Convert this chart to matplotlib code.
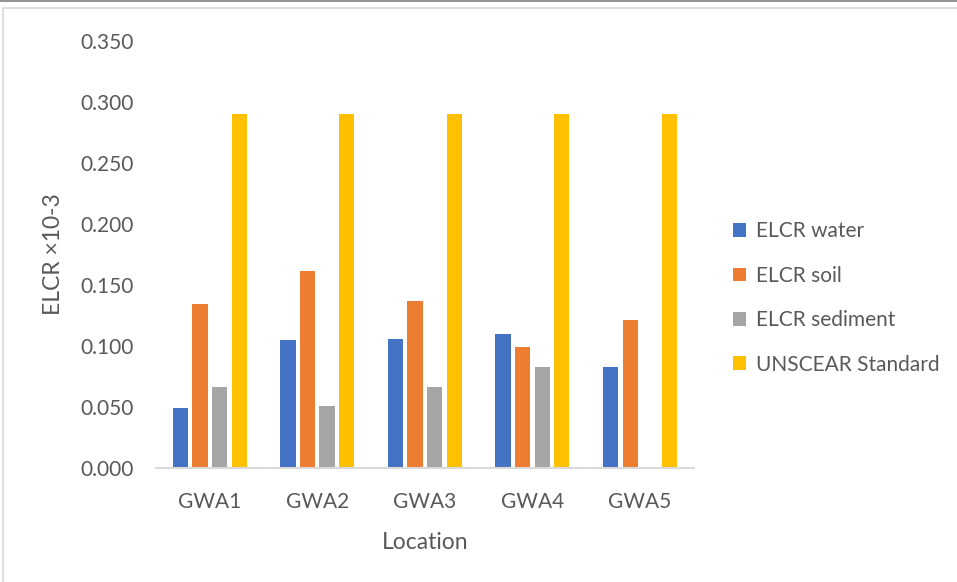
import matplotlib.pyplot as plt
import numpy as np
from matplotlib.patches import Rectangle

plt.rcParams['font.family'] = ['Lato', 'DejaVu Sans']

# ELCR values per location
locations = ['GWA1', 'GWA2', 'GWA3', 'GWA4', 'GWA5']
elcr_water = [0.049, 0.105, 0.106, 0.110, 0.083]
elcr_soil = [0.134, 0.161, 0.137, 0.099, 0.121]
elcr_sediment = [0.066, 0.051, 0.066, 0.083, 0.0]
unscear = [0.29, 0.29, 0.29, 0.29, 0.29]

series = [('ELCR water', elcr_water, '#4472C4'),
          ('ELCR soil', elcr_soil, '#ED7D31'),
          ('ELCR sediment', elcr_sediment, '#A5A5A5'),
          ('UNSCEAR Standard', unscear, '#FFC000')]

txt = '#595959'

fig = plt.figure(figsize=(9.57, 5.82), dpi=100)
ax = fig.add_axes([0.163, 0.196, 0.562, 0.734])

x = np.arange(len(locations))
step = 0.182
width = 0.142
for i, (name, vals, col) in enumerate(series):
    ax.bar(x + (i - 1.5) * step, vals, width, color=col, label=name, zorder=2)

ax.set_xlim(-0.5, 4.5)
ax.set_ylim(0, 0.35)
ax.set_yticks(np.arange(0, 0.351, 0.05))
ax.yaxis.set_major_formatter(plt.FuncFormatter(lambda v, p: '%.3f' % v))
ax.set_xticks(x)
ax.set_xticklabels(locations)
ax.tick_params(axis='both', length=0, labelsize=15, colors=txt)
ax.tick_params(axis='y', pad=16)
ax.tick_params(axis='x', pad=17)
for s in ['top', 'right', 'left']:
    ax.spines[s].set_visible(False)
ax.spines['bottom'].set_color('#D9D9D9')
ax.spines['bottom'].set_linewidth(1.5)

ax.set_xlabel('Location', fontsize=16.5, color=txt, labelpad=15)
ax.set_ylabel('ELCR \u00d710-3', fontsize=16.5, color=txt, labelpad=12)

leg = ax.legend(loc='center left', bbox_to_anchor=(0.757, 0.488),
                bbox_transform=fig.transFigure, frameon=False,
                fontsize=15, labelcolor=txt, handlelength=0.65, handleheight=0.65,
                handletextpad=0.45, labelspacing=1.17, borderaxespad=0)

# chart border
fig.patches.append(Rectangle((0.003, -0.01), 1.1, 0.996, transform=fig.transFigure,
                             fill=False, edgecolor='#D9D9D9', linewidth=1.2))
fig.add_artist(plt.Line2D([0, 1], [0.999, 0.999], transform=fig.transFigure,
                          color='#7F7F7F', linewidth=1.2))

fig.savefig('out.png', dpi=100)
